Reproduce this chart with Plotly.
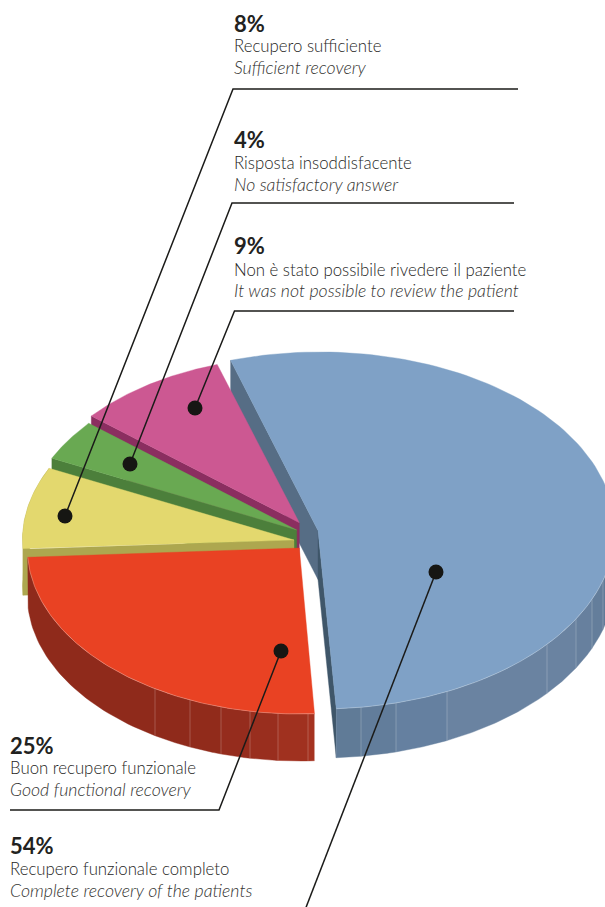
import numpy as np
import plotly.graph_objects as go

# ---------- data ----------
labels_it = ["Recupero funzionale completo", "Buon recupero funzionale", "Recupero sufficiente",
             "Risposta insoddisfacente", "Non è stato possibile rivedere il paziente"]
labels_en = ["Complete recovery of the patients", "Good functional recovery", "Sufficient recovery",
             "No satisfactory answer", "It was not possible to review the patient"]
values = [54, 25, 8, 4, 9]

# ---------- styles / layout ----------
top_col = ["#7fa1c6", "#e94223", "#e3d86e", "#69a952", "#cc5892"]
cut_col = ["#566d85", "#8f2a1b", "#ada74f", "#4c7f3b", "#8b2e60"]
cut2_col = "#3f5669"
# exploded slice geometry in canvas pixels: centre x, centre y, radius x, radius y, depth
geom = [(319.8, 530.5, 295, 178.5, 49), (299.3, 548, 272, 166, 47), (294, 540, 271.5, 166, 46),
        (296.7, 530, 271.5, 166, 46), (299.3, 522.7, 271.5, 166, 46)]
rotation = -17.6
wall_ticks = {0: [361, 396, 447, 547, 576, 592, 603], 1: [155, 190, 221, 250, 278, 308]}
wall_cols = {0: ["#607b97", "#627d9b", "#6580a0", "#6a83a1", "#6a83a1", "#67809e", "#647e9b", "#607a97"],
             1: ["#8f2a1b", "#8f2a1b", "#912b1b", "#952c1d", "#992e1e", "#a0311f", "#a53220"]}
# callouts: dot position, then the leader's elbow and end
leaders = [
    [(436, 572), (305, 910)],
    [(281, 651), (219, 810), (10, 810)],
    [(65, 516), (233, 89), (518, 89)],
    [(130, 464), (232, 203), (514, 203)],
    [(195, 408), (234.5, 311), (514, 311)],
]
# text x, baselines of percent, Italian and English lines
text_pos = [(10, 859, 879, 901), (10, 759, 778, 800), (234, 36.5, 56, 78), (234, 153, 173, 195), (234, 259, 280, 301)]
FONT = "Lato"

fig = go.Figure()


def poly(xs, ys, col):
    fig.add_trace(go.Scatter(x=xs, y=ys, mode="lines", fill="toself", fillcolor=col,
                             line=dict(color=col, width=0.4), hoverinfo="skip", showlegend=False))


def arc(g, a, b, n=120):
    t = np.radians(np.linspace(a, b, n))
    return g[0] + g[2] * np.sin(t), g[1] - g[3] * np.cos(t)


# angles from the values
spans = [v / sum(values) * 360 for v in values]
starts = [rotation + sum(spans[:i]) for i in range(len(values))]


def draw(i):
    g = geom[i]
    a, b = starts[i], starts[i] + spans[i]
    d = g[4]
    # apex sits slightly left of the arc centre on the big slice
    ax = g[0] - 1.8 if i == 0 else g[0]
    # cut faces
    if i != 1:
        px, py = arc(g, a, a, 1)
        poly([px[0], ax, ax, px[0], px[0]], [py[0], g[1], g[1] + d, py[0] + d, py[0]], cut_col[i])
    if i == 0:
        px, py = arc(g, b, b, 1)
        poly([ax, px[0], px[0], ax, ax], [g[1], py[0], py[0] + d, g[1] + d, g[1]], cut2_col)
    # outer wall
    if i in wall_ticks:
        ticks = [180 - np.degrees(np.arcsin((x - g[0]) / g[2])) for x in wall_ticks[i]]
        lo, hi = max(a, 85), b
        edges = sorted([lo, hi] + ticks)
        segs = list(zip(edges[:-1], edges[1:]))[::-1]
        for (s, e), c in zip(segs, wall_cols[i]):
            x1, y1 = arc(g, s, e, 40)
            poly(np.r_[x1, x1[::-1]], np.r_[y1, y1[::-1] + d], c)
        for t in ticks:
            x1, y1 = arc(g, t, t, 1)
            fig.add_trace(go.Scatter(x=[x1[0], x1[0]], y=[y1[0], y1[0] + d], mode="lines",
                                     line=dict(color="rgba(255,255,255,0.22)", width=1),
                                     hoverinfo="skip", showlegend=False))
    elif i == 2:
        x1, y1 = arc(g, a, b, 40)
        poly(np.r_[x1, x1[::-1]], np.r_[y1, y1[::-1] + d], cut_col[i])
    # top face
    x1, y1 = arc(g, a, b)
    poly(np.r_[ax, x1, ax], np.r_[g[1], y1, g[1]], top_col[i])
    if i in wall_ticks:
        lo = max(a, 85)
        x1, y1 = arc(g, lo, b)
        fig.add_trace(go.Scatter(x=x1, y=y1, mode="lines", line=dict(color="rgba(255,255,255,0.35)", width=0.7),
                                 hoverinfo="skip", showlegend=False))


for i in (0, 4, 3, 2, 1):
    draw(i)

# leaders
for pts in leaders:
    xs, ys = zip(*pts)
    fig.add_trace(go.Scatter(x=xs, y=ys, mode="lines", line=dict(color="#1b1b19", width=1.5),
                             hoverinfo="skip", showlegend=False))
    fig.add_trace(go.Scatter(x=[xs[0]], y=[ys[0]], mode="markers", marker=dict(color="#161613", size=15),
                             hoverinfo="skip", showlegend=False))

# text
for i, (x, y0, y1, y2) in enumerate(text_pos):
    for txt, yy, size, col, kw in (
        (f"{values[i]}%", y0, 22, "#222220", dict(weight=700)),
        (labels_it[i], y1, 16.8, "#262624", dict(weight=300)),
        (labels_en[i], y2, 17.7, "#333331", dict(weight=300, style="italic")),
    ):
        fig.add_annotation(x=x, y=yy, xref="x", yref="y", text=txt, showarrow=False,
                           xanchor="left", yanchor="bottom", borderpad=0, borderwidth=0,
                           font=dict(family=FONT, size=size, color=col, **kw))

fig.update_layout(width=605, height=907, autosize=False, margin=dict(l=0, r=0, t=0, b=0),
                  paper_bgcolor="white", plot_bgcolor="white", showlegend=False,
                  xaxis=dict(range=[0, 605], visible=False, fixedrange=True),
                  yaxis=dict(range=[907, 0], visible=False, fixedrange=True))
fig.write_html("out.html", config=dict(displayModeBar=False),
               post_script="document.body.style.margin='0';")
